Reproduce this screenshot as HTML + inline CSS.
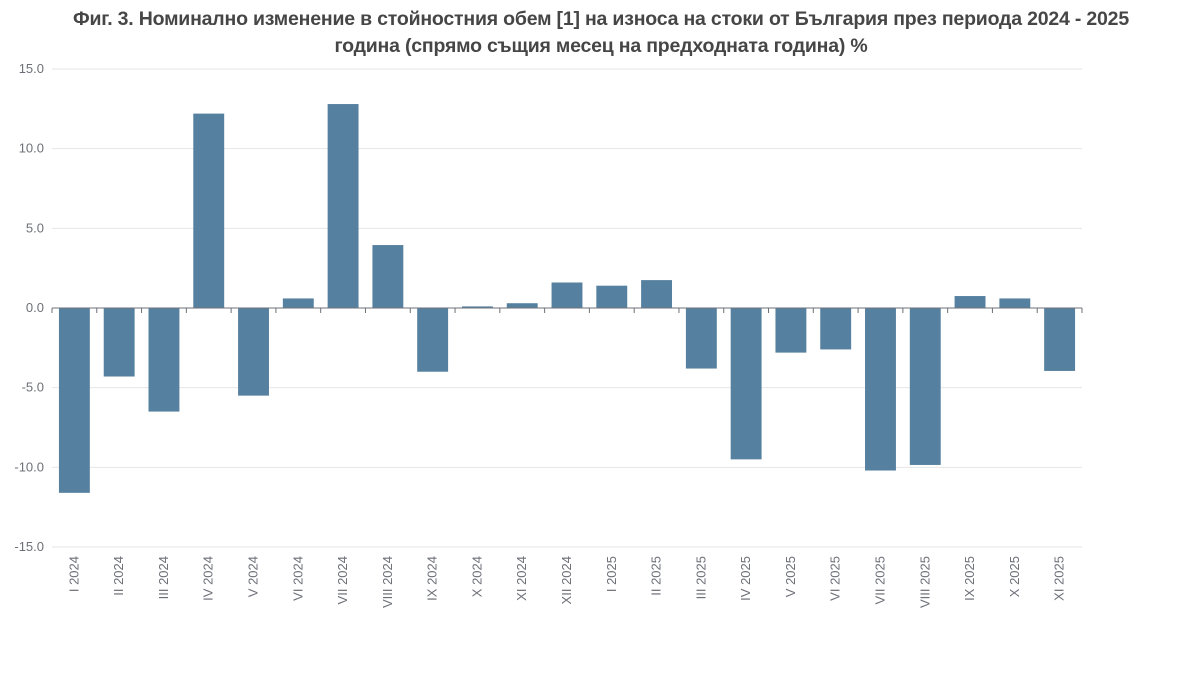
<!DOCTYPE html>
<html><head><meta charset="utf-8"><style>
body{margin:0;background:#fff;width:1200px;height:692px;overflow:hidden;font-family:"Liberation Sans","DejaVu Sans",sans-serif}
#title{position:absolute;left:0;top:6px;width:1202px;text-align:center;font-weight:bold;font-size:19.5px;line-height:27px;color:#464646;letter-spacing:-0.2px}
</style></head><body>
<div id="title">Фиг. 3. Номинално изменение в стойностния обем [1] на износа на стоки от България през периода 2024 - 2025<br>година (спрямо същия месец на предходната година) %</div>
<svg id="chart" width="1200" height="692" style="position:absolute;left:0;top:0"></svg>
<script>
const categories=["I 2024","II 2024","III 2024","IV 2024","V 2024","VI 2024","VII 2024","VIII 2024","IX 2024","X 2024","XI 2024","XII 2024","I 2025","II 2025","III 2025","IV 2025","V 2025","VI 2025","VII 2025","VIII 2025","IX 2025","X 2025","XI 2025"];
const values=[-11.6,-4.3,-6.5,12.2,-5.5,0.6,12.8,3.95,-4.0,0.1,0.3,1.6,1.4,1.75,-3.8,-9.5,-2.8,-2.6,-10.2,-9.85,0.75,0.6,-3.95];
const yTicks=[15,10,5,0,-5,-10,-15];
const NS="http://www.w3.org/2000/svg";
const svg=document.getElementById('chart');
const x0=52,x1=1082,yTop=69,yBot=547,yMin=-15,yMax=15;
const y=v=>yTop+(yMax-v)/(yMax-yMin)*(yBot-yTop);
const band=(x1-x0)/categories.length;
const xc=i=>x0+band*(i+0.5);
function mk(t,a){const e=document.createElementNS(NS,t);for(const k in a)e.setAttribute(k,a[k]);svg.appendChild(e);return e;}
yTicks.forEach(t=>{
  const g=mk('line',{x1:x0,x2:x1,y1:y(t),y2:y(t),stroke:'#e6e6e6','stroke-width':1});
  
  
  const l=mk('text',{x:44,y:y(t)+4,'text-anchor':'end','font-size':13,fill:'#6e7079'});
  l.textContent=t.toFixed(1);
  
  
});
values.forEach((v,i)=>{
  const w=band*0.69;
  const b=mk('rect',{x:xc(i)-w/2,y:Math.min(y(v),y(0)),width:w,height:Math.abs(y(v)-y(0)),fill:'#55809f'});
  
  
});
const ax=mk('line',{x1:x0,x2:x1,y1:y(0),y2:y(0),stroke:'#6e7079','stroke-width':1});


for(let i=0;i<=categories.length;i++){
  const t=mk('line',{x1:x0+band*i,x2:x0+band*i,y1:y(0),y2:y(0)+5,stroke:'#6e7079'});
  
  
}
categories.forEach((c,i)=>{
  const t=mk('text',{x:0,y:0,'text-anchor':'end','font-size':13,fill:'#6e7079',transform:`translate(${xc(i)+4},556) rotate(-90)`});
  t.textContent=c;
  
  
});
</script>
</body></html>
